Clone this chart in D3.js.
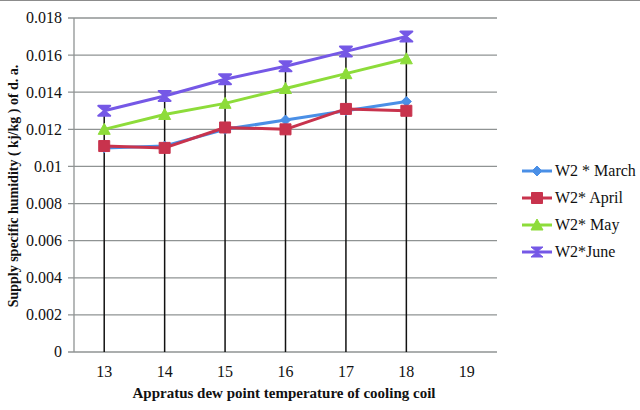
<!DOCTYPE html>
<html>
<head>
<meta charset="utf-8">
<script src="https://cdn.jsdelivr.net/npm/d3@7"></script>
<style>
  body { margin: 0; background: #fff; }
</style>
</head>
<body>
<div id="chart"></div>
<script>
const categories = ["13", "14", "15", "16", "17", "18", "19"]
const yTicks = [0, 0.002, 0.004, 0.006, 0.008, 0.01, 0.012, 0.014, 0.016, 0.018]

const march = [0.0110, 0.0111, 0.0120, 0.0125, 0.0130, 0.0135]
const april = [0.0111, 0.0110, 0.0121, 0.0120, 0.0131, 0.0130]
const may   = [0.0120, 0.0128, 0.0134, 0.0142, 0.0150, 0.0158]
const june  = [0.0130, 0.0138, 0.0147, 0.0154, 0.0162, 0.0170]

const seriesNames = ["W2 * March", "W2* April", "W2* May", "W2*June"]
const seriesColours = ["#4a8fe6", "#c8334d", "#8ddc3a", "#7558e6"]
const seriesMarkers = ["diamond", "square", "triangle", "hourglass"]

const width = 640, height = 410
const margin = { top: 18, right: 143, bottom: 58, left: 74 }
const serif = "'Liberation Serif', 'Times New Roman', Times, serif"

const series = [march, april, may, june].map((values, i) => ({
    name: seriesNames[i],
    colour: seriesColours[i],
    marker: seriesMarkers[i],
    values: values.map((v, j) => ({ cat: categories[j], v }))
}))

const svg = d3.select("#chart")
    .append("svg")
    .attr("width", width)
    .attr("height", height)
    .attr("font-family", serif)
    .style("font-family", serif)

// top border of the chart frame
svg.append("line")
    .attr("x1", 0).attr("x2", width)
    .attr("y1", 0.5).attr("y2", 0.5)
    .attr("stroke", "#8c8c8c")

const x = d3.scaleBand()
    .domain(categories)
    .range([margin.left, width - margin.right])

const y = d3.scaleLinear()
    .domain([0, 0.018])
    .range([height - margin.bottom, margin.top])

// horizontal gridlines
svg.append("g")
    .selectAll("line")
    .data(yTicks)
    .join("line")
    .attr("x1", margin.left - 6)
    .attr("x2", width - margin.right)
    .attr("y1", d => y(d))
    .attr("y2", d => y(d))
    .attr("stroke", "#8f9393")
    .attr("stroke-width", 1.3)

// y axis line
svg.append("line")
    .attr("x1", margin.left).attr("x2", margin.left)
    .attr("y1", y(0.018)).attr("y2", y(0))
    .attr("stroke", "#8f9393")
    .attr("stroke-width", 1.3)

// y tick labels
svg.append("g")
    .selectAll("text")
    .data(yTicks)
    .join("text")
    .attr("x", margin.left - 12)
    .attr("y", d => y(d))
    .attr("dy", "0.34em")
    .attr("text-anchor", "end")
    .style("font-size", "16px")
    .attr("fill", "#111")
    .text(d => d === 0 ? "0" : String(+d.toFixed(3)))

// x tick labels
svg.append("g")
    .selectAll("text")
    .data(categories)
    .join("text")
    .attr("x", d => x(d) + x.bandwidth() / 2)
    .attr("y", y(0) + 25)
    .attr("text-anchor", "middle")
    .style("font-size", "16px")
    .attr("fill", "#111")
    .text(d => d)

// drop lines from the highest value down to the axis
const tops = categories.slice(0, june.length).map((c, i) => ({
    cat: c,
    v: d3.max(series, s => s.values[i].v)
}))
svg.append("g")
    .selectAll("line")
    .data(tops)
    .join("line")
    .attr("x1", d => x(d.cat) + x.bandwidth() / 2)
    .attr("x2", d => x(d.cat) + x.bandwidth() / 2)
    .attr("y1", d => y(d.v))
    .attr("y2", y(0))
    .attr("stroke", "#111")
    .attr("stroke-width", 1.5)

function markerPath(type) {
    if (type === "diamond") return "M0,-5L5,0L0,5L-5,0Z"
    if (type === "square") return "M-5.5,-5.5H5.5V5.5H-5.5Z"
    if (type === "triangle") return "M0,-6L6,5H-6Z"
    return "M-6,-5H6L0,0L6,5H-6L0,0Z"
}

const line = d3.line()
    .x(d => x(d.cat) + x.bandwidth() / 2)
    .y(d => y(d.v))

const sg = svg.append("g")
    .selectAll("g")
    .data(series)
    .join("g")

sg.append("path")
    .attr("d", d => line(d.values))
    .attr("fill", "none")
    .attr("stroke", d => d.colour)
    .attr("stroke-width", 3)
    .attr("stroke-linejoin", "round")

sg.selectAll(".mk")
    .data(d => d.values.map(p => ({ ...p, s: d })))
    .join("path")
    .attr("class", "mk")
    .attr("transform", d => `translate(${x(d.cat) + x.bandwidth() / 2},${y(d.v)})`)
    .attr("d", d => markerPath(d.s.marker))
    .attr("fill", d => d.s.colour)
    .attr("stroke", d => d.s.colour)
    .attr("stroke-width", d => d.s.marker === "hourglass" ? 2 : 1)
    .attr("stroke-linejoin", "round")

// legend
const legend = svg.append("g")
    .selectAll("g")
    .data(series)
    .join("g")
    .attr("transform", (d, i) => `translate(522,${171 + i * 27})`)

legend.append("line")
    .attr("x1", 0).attr("x2", 30)
    .attr("stroke", d => d.colour)
    .attr("stroke-width", 3)

legend.append("path")
    .attr("transform", "translate(15,0)")
    .attr("d", d => markerPath(d.marker))
    .attr("fill", d => d.colour)
    .attr("stroke", d => d.colour)
    .attr("stroke-width", 1)

legend.append("text")
    .attr("x", 33)
    .attr("dy", "0.34em")
    .style("font-size", "16px")
    .attr("fill", "#111")
    .text(d => d.name)

// axis titles
svg.append("text")
    .attr("x", 284)
    .attr("y", 398)
    .attr("text-anchor", "middle")
    .style("font-size", "15px")
    .style("font-weight", "bold")
    .attr("fill", "#111")
    .text("Appratus dew point temperature  of cooling coil")

svg.append("text")
    .attr("transform", "translate(18,186) rotate(-90)")
    .attr("text-anchor", "middle")
    .style("font-size", "14px")
    .style("font-weight", "bold")
    .attr("fill", "#111")
    .text("Supply specific  humidity ( kj/kg ) of d. a.")
</script>
</body>
</html>
